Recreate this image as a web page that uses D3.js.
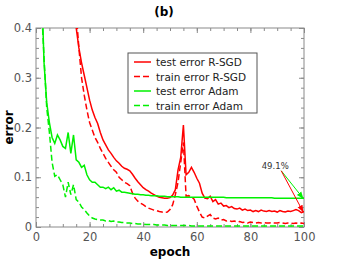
<!DOCTYPE html>
<html>
<head>
<meta charset="utf-8">
<script src="https://cdn.jsdelivr.net/npm/d3@7"></script>
<style>
  body { margin: 0; background: #fff; }
  svg text { font-family: "DejaVu Sans", sans-serif; }
</style>
</head>
<body>
<div id="chart"></div>
<script>
// data, one value per epoch 1..100, null = not drawn
var epochs = d3.range(1, 101);

var testAdam = [0.9,0.5,0.33,0.25,0.21,0.18,0.168,0.185,0.175,0.162,
  0.158,0.19,0.148,0.185,0.135,0.13,0.12,0.124,0.105,0.095,
  0.09,0.09,0.085,0.08,0.08,0.077,0.08,0.075,0.079,0.072,
  0.074,0.07,0.07,0.069,0.068,0.067,0.066,0.066,0.065,0.065,
  0.064,0.064,0.063,0.063,0.063,0.062,0.062,0.062,0.061,0.061,
  0.061,0.061,0.061,0.06,0.06,0.06,0.06,0.06,0.06,0.06,
  0.06,0.06,0.06,0.06,0.06,0.06,0.06,0.06,0.06,0.06,
  0.059,0.059,0.059,0.059,0.059,0.059,0.059,0.059,0.059,0.059,
  0.059,0.059,0.059,0.059,0.059,0.059,0.059,0.059,0.058,0.058,
  0.058,0.058,0.058,0.058,0.058,0.058,0.058,0.058,0.058,0.058];

var trainAdam = [0.85,0.45,0.34,0.24,0.19,0.13,0.102,0.105,0.095,0.085,
  0.06,0.09,0.065,0.085,0.055,0.05,0.04,0.035,0.028,0.022,
  0.018,0.016,0.015,0.014,0.014,0.012,0.013,0.011,0.012,0.01,
  0.01,0.009,0.009,0.008,0.008,0.007,0.007,0.006,0.006,0.006,
  0.005,0.005,0.005,0.005,0.004,0.004,0.004,0.004,0.003,0.003,
  0.003,0.003,0.003,0.003,0.003,0.003,0.003,0.002,0.002,0.002,
  0.002,0.002,0.002,0.002,0.002,0.002,0.002,0.002,0.002,0.002,
  0.002,0.002,0.002,0.002,0.002,0.002,0.002,0.002,0.002,0.002,
  0.002,0.002,0.002,0.002,0.002,0.002,0.002,0.002,0.002,0.002,
  0.002,0.002,0.002,0.002,0.002,0.002,0.002,0.002,0.002,0.002];

var testRSGD = [null,null,null,null,null,null,null,null,null,null,
  null,null,0.52,0.45,0.4,0.36,0.33,0.305,0.28,0.255,
  0.235,0.22,0.208,0.19,0.175,0.165,0.155,0.148,0.14,0.133,
  0.128,0.122,0.118,0.116,0.113,0.106,0.098,0.091,0.085,0.079,
  0.075,0.072,0.068,0.065,0.062,0.06,0.059,0.058,0.058,0.059,
  0.064,0.075,0.115,0.14,0.205,0.105,0.11,0.12,0.11,0.098,
  0.088,0.068,0.058,0.057,0.062,0.051,0.055,0.046,0.048,0.042,
  0.043,0.039,0.041,0.037,0.036,0.038,0.034,0.036,0.033,0.034,
  0.031,0.033,0.031,0.034,0.032,0.031,0.033,0.031,0.032,0.03,
  0.033,0.031,0.03,0.032,0.031,0.033,0.035,0.033,0.029,0.031];

var trainRSGD = [null,null,null,null,null,null,null,null,null,null,
  null,null,null,0.5,0.43,0.36,0.3,0.265,0.235,0.21,
  0.195,0.18,0.17,0.158,0.148,0.138,0.13,0.122,0.115,0.11,
  0.1,0.095,0.09,0.087,0.083,0.068,0.058,0.052,0.048,0.045,
  0.041,0.038,0.036,0.034,0.033,0.031,0.03,0.029,0.03,0.035,
  0.045,0.065,0.09,0.13,0.17,0.062,0.063,0.06,0.056,0.042,
  0.03,0.02,0.018,0.022,0.025,0.018,0.016,0.018,0.014,0.015,
  0.012,0.013,0.011,0.012,0.01,0.011,0.009,0.01,0.008,0.01,
  0.009,0.008,0.009,0.008,0.009,0.008,0.008,0.009,0.008,0.008,
  0.009,0.008,0.007,0.008,0.008,0.007,0.008,0.007,0.008,0.007];

var seriesNames = ["test error R-SGD", "train error R-SGD", "test error Adam", "train error Adam"];
var seriesValues = [testRSGD, trainRSGD, testAdam, trainAdam];
var seriesColors = ["#ff0000", "#ff0000", "#00f000", "#00f000"];
var seriesDashed = [false, true, false, true];

var xTicks = [0, 20, 40, 60, 80, 100];
var yTicks = [0, 0.1, 0.2, 0.3, 0.4];
var gainLabel = "49.1%";

var W = 339, H = 264;
var margin = {top: 28, right: 35, bottom: 37, left: 36},
    width = W - margin.left - margin.right,
    height = H - margin.top - margin.bottom;

var svg = d3.select("#chart").append("svg")
    .attr("width", W).attr("height", H);

var g = svg.append("g")
    .attr("transform", "translate(" + margin.left + "," + margin.top + ")");

var x = d3.scaleLinear().domain([0, 100]).range([0, width]);
var y = d3.scaleLinear().domain([0, 0.4]).range([height, 0]);

svg.append("defs").append("clipPath").attr("id", "clip")
  .append("rect").attr("width", width).attr("height", height);

// minor + major ticks, pointing inward on all four sides
var frameCol = "#8a8a8a";
function drawTicks(axisFn, scale, vals, len, transform) {
  g.append("g").attr("transform", transform)
    .call(axisFn(scale).tickValues(vals).tickSize(len).tickFormat(""))
    .call(function(s) { s.select(".domain").remove(); s.selectAll("line").attr("stroke", frameCol); });
}
var xMinor = d3.range(0, 101, 5), yMinor = d3.range(0, 0.401, 0.02);
drawTicks(d3.axisTop, x, xMinor, 3, "translate(0," + height + ")");
drawTicks(d3.axisBottom, x, xMinor, 3, "translate(0,0)");
drawTicks(d3.axisRight, y, yMinor, 3, "translate(0,0)");
drawTicks(d3.axisLeft, y, yMinor, 3, "translate(" + width + ",0)");
drawTicks(d3.axisTop, x, xTicks, 5, "translate(0," + height + ")");
drawTicks(d3.axisBottom, x, xTicks, 5, "translate(0,0)");
drawTicks(d3.axisRight, y, yTicks, 5, "translate(0,0)");
drawTicks(d3.axisLeft, y, yTicks, 5, "translate(" + width + ",0)");

// tick labels
g.append("g").attr("transform", "translate(0," + height + ")")
  .call(d3.axisBottom(x).tickValues(xTicks).tickSize(0).tickPadding(6).tickFormat(d3.format("d")))
  .call(function(s) {
    s.select(".domain").remove();
    s.selectAll("text").attr("fill", "#555").style("font-size", "11.5px").style("font-family", "DejaVu Sans");
  });
g.append("g")
  .call(d3.axisLeft(y).tickValues(yTicks).tickSize(0).tickPadding(4).tickFormat(function(d) { return d === 0 ? "0" : d3.format(".1f")(d); }))
  .call(function(s) {
    s.select(".domain").remove();
    s.selectAll("text").attr("fill", "#555").style("font-size", "11.5px").style("font-family", "DejaVu Sans");
  });

// frame
g.append("rect").attr("width", width).attr("height", height)
  .attr("fill", "none").attr("stroke", frameCol).attr("stroke-width", 1);

// curves
var line = d3.line()
  .defined(function(d) { return d[1] !== null; })
  .x(function(d) { return x(d[0]); })
  .y(function(d) { return y(d[1]); });

var plot = g.append("g").attr("clip-path", "url(#clip)");
seriesValues.forEach(function(vals, i) {
  plot.append("path")
    .datum(epochs.map(function(e, j) { return [e, vals[j]]; }))
    .attr("fill", "none")
    .attr("stroke", seriesColors[i])
    .attr("stroke-width", 1.5)
    .attr("stroke-dasharray", seriesDashed[i] ? "6,3" : null)
    .attr("d", line);
});

// arrows from the label to the final test errors
var defs = svg.select("defs");
["red", "green"].forEach(function(name, i) {
  defs.append("marker").attr("id", "arr-" + name)
    .attr("viewBox", "0 0 10 10").attr("refX", 9).attr("refY", 5)
    .attr("markerWidth", 7).attr("markerHeight", 7).attr("orient", "auto")
    .append("path").attr("d", "M0,1 L10,5 L0,9 Z")
    .attr("fill", seriesColors[i === 0 ? 0 : 2]);
});
var lx = x(91.5), ly = y(0.113);
g.append("text").attr("x", lx - 6).attr("y", ly - 2)
  .attr("text-anchor", "middle").style("font-size", "8.5px").attr("fill", "#333")
  .text(gainLabel);
g.append("line").attr("x1", lx).attr("y1", ly)
  .attr("x2", x(100) - 1).attr("y2", y(testAdam[99]))
  .attr("stroke", seriesColors[2]).attr("stroke-width", 1)
  .attr("marker-end", "url(#arr-green)");
g.append("line").attr("x1", lx).attr("y1", ly)
  .attr("x2", x(100) - 1).attr("y2", y(testRSGD[99]))
  .attr("stroke", seriesColors[0]).attr("stroke-width", 1)
  .attr("marker-end", "url(#arr-red)");

// legend
var leg = g.append("g").attr("transform", "translate(92,25)");
leg.append("rect").attr("width", 129).attr("height", 60)
  .attr("fill", "#fff").attr("stroke", "#555").attr("stroke-width", 1);
seriesNames.forEach(function(name, i) {
  var yy = 9 + i * 14.5;
  leg.append("line").attr("x1", 6).attr("x2", 23).attr("y1", yy).attr("y2", yy)
    .attr("stroke", seriesColors[i]).attr("stroke-width", 1.5)
    .attr("stroke-dasharray", seriesDashed[i] ? "6,3" : null);
  leg.append("text").attr("x", 28).attr("y", yy + 4)
    .style("font-size", "10.5px").attr("fill", "#222").text(name);
});

// titles
svg.append("text").attr("x", 164).attr("y", 16).attr("text-anchor", "middle")
  .style("font-size", "12px").style("font-weight", "bold").text("(b)");
svg.append("text").attr("x", margin.left + width / 2).attr("y", 256).attr("text-anchor", "middle")
  .style("font-size", "12px").style("font-weight", "bold").text("epoch");
svg.append("text").attr("transform", "translate(13," + (margin.top + height / 2) + ") rotate(-90)")
  .attr("text-anchor", "middle")
  .style("font-size", "12px").style("font-weight", "bold").text("error");
</script>
</body>
</html>
